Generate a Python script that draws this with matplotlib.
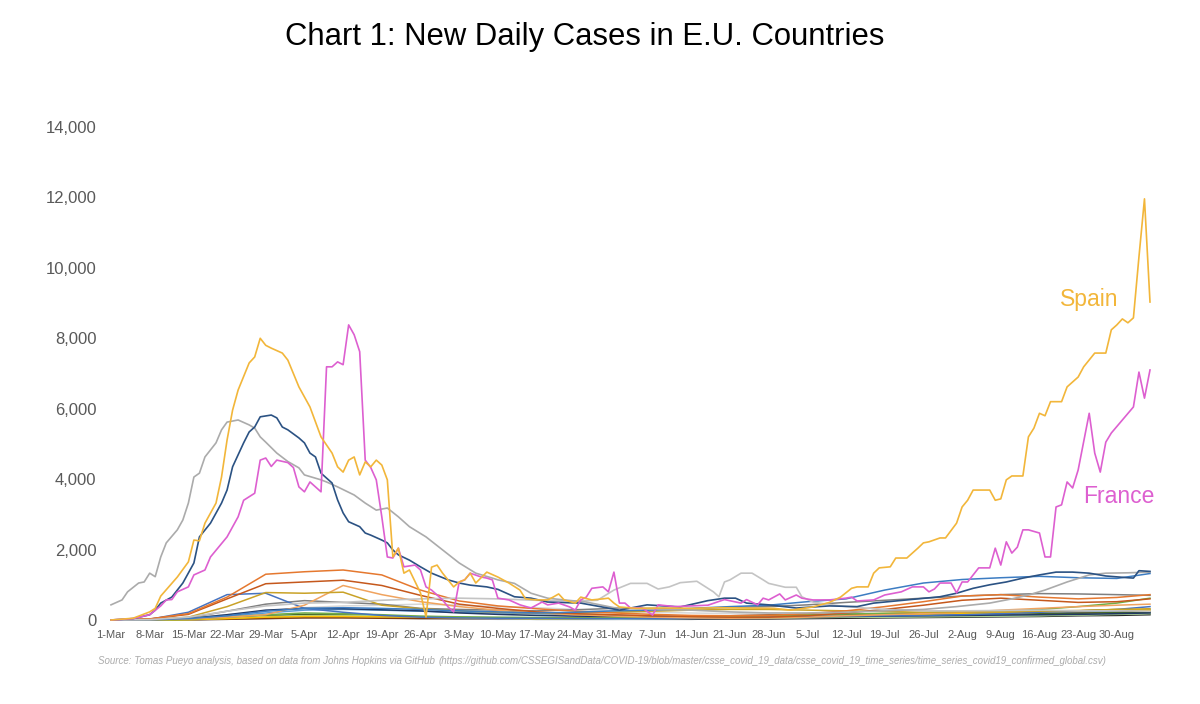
import matplotlib
matplotlib.use('Agg')
import matplotlib.pyplot as plt

plt.rcParams['font.family'] = ['Liberation Sans', 'DejaVu Sans']

# ── Data: new daily cases, day 0 = 1-Mar ─────────────────────────────────
x_labels = ['1-Mar', '8-Mar', '15-Mar', '22-Mar', '29-Mar', '5-Apr', '12-Apr',
            '19-Apr', '26-Apr', '3-May', '10-May', '17-May', '24-May', '31-May',
            '7-Jun', '14-Jun', '21-Jun', '28-Jun', '5-Jul', '12-Jul', '19-Jul',
            '26-Jul', '2-Aug', '9-Aug', '16-Aug', '23-Aug', '30-Aug']

spain_day = [0, 4, 7, 8, 9, 12, 14, 15, 16, 17, 19, 20, 21, 22, 23, 25, 26, 27, 28, 29,
             30, 31, 32, 34, 36, 38, 40, 41, 42, 43, 44, 45, 46, 47, 48, 49, 50, 51, 52,
             53, 54, 56, 57, 58, 59, 60, 62, 63, 64, 65, 66, 68, 70, 72, 74, 75, 77, 79,
             80, 81, 82, 84, 85, 87, 89, 90, 91, 92, 95, 100, 105, 110, 115, 120, 123,
             127, 130, 132, 134, 135, 137, 138, 139, 141, 142, 144, 146, 147, 148, 150,
             151, 153, 154, 155, 156, 159, 160, 161, 162, 163, 165, 166, 167, 168, 169,
             170, 172, 173, 175, 176, 178, 180, 181, 182, 183, 184, 185, 186, 187, 188]
spain_val = [0, 50, 230, 330, 680, 1220, 1650, 2270, 2250, 2750, 3320, 4060, 5110, 5960,
             6530, 7300, 7470, 8000, 7800, 7720, 7650, 7580, 7380, 6620, 6050, 5200, 4740,
             4350, 4200, 4540, 4630, 4120, 4490, 4350, 4540, 4400, 3980, 1790, 2040, 1330,
             1420, 770, 85, 1500, 1560, 1330, 940, 1080, 1140, 1330, 1050, 1360, 1220, 1050,
             850, 600, 570, 570, 650, 740, 570, 480, 650, 570, 600, 620, 480, 370, 330, 340,
             330, 350, 340, 330, 280, 370, 500, 650, 900, 940, 940, 1330, 1480, 1510, 1760,
             1760, 2040, 2190, 2220, 2330, 2330, 2750, 3210, 3400, 3690, 3690, 3400, 3440,
             3980, 4090, 4090, 5200, 5450, 5870, 5800, 6200, 6200, 6620, 6900, 7190, 7580,
             7580, 8240, 8380, 8550, 8440, 8580, 10310, 11960, 9030]

france_day = [0, 4, 7, 9, 10, 11, 12, 14, 15, 17, 18, 21, 23, 24, 26, 27, 28, 29, 30, 32,
              33, 34, 35, 36, 38, 39, 40, 41, 42, 43, 44, 45, 46, 47, 48, 49, 50, 51, 52,
              53, 55, 56, 57, 58, 60, 61, 62, 63, 64, 65, 67, 68, 69, 70, 72, 74, 76, 78,
              79, 81, 83, 84, 85, 86, 87, 89, 90, 91, 92, 93, 94, 96, 98, 99, 102, 105, 108,
              111, 114, 115, 117, 118, 119, 121, 122, 124, 125, 127, 130, 133, 134, 135, 138,
              140, 143, 145, 147, 148, 149, 150, 152, 153, 154, 155, 157, 159, 160, 161, 162,
              163, 164, 165, 166, 168, 169, 170, 171, 172, 173, 174, 175, 177, 178, 179, 180,
              181, 183, 185, 186, 187, 188]
france_val = [0, 40, 150, 400, 570, 580, 800, 940, 1280, 1420, 1790, 2360, 2930, 3400, 3600,
              4540, 4600, 4360, 4540, 4470, 4330, 3780, 3640, 3920, 3640, 7190, 7190, 7330,
              7250, 8380, 8100, 7620, 4540, 4330, 3980, 2930, 1790, 1760, 2040, 1510, 1560,
              1420, 940, 850, 570, 370, 230, 1080, 1140, 1330, 1220, 1190, 1140, 620, 570, 430,
              340, 510, 430, 480, 370, 280, 570, 650, 900, 940, 800, 1360, 480, 480, 340, 350,
              140, 430, 380, 400, 420, 580, 480, 580, 430, 620, 570, 740, 570, 710, 620, 570,
              570, 620, 650, 540, 570, 710, 800, 940, 940, 800, 880, 1050, 1050, 770, 1080,
              1080, 1480, 1480, 2040, 1560, 2220, 1900, 2070, 2560, 2560, 2470, 1790, 1790,
              3210, 3270, 3920, 3750, 4260, 5870, 4740, 4200, 5050, 5310, 5680, 6050, 7040,
              6300, 7100]

germany_day = [0, 4, 7, 8, 9, 11, 13, 15, 16, 18, 20, 21, 22, 24, 25, 26, 27, 29, 30, 31,
               32, 34, 35, 36, 37, 38, 40, 41, 42, 43, 45, 46, 47, 49, 50, 51, 52, 54, 56,
               58, 61, 63, 65, 68, 70, 73, 76, 79, 85, 92, 97, 103, 108, 111, 113, 115, 119,
               124, 130, 135, 138, 144, 150, 153, 156, 159, 162, 165, 168, 171, 174, 177,
               180, 184, 185, 186, 188]
germany_val = [0, 40, 150, 280, 480, 650, 1050, 1620, 2360, 2750, 3320, 3690, 4350, 5030,
               5340, 5480, 5770, 5820, 5740, 5480, 5400, 5170, 5030, 4740, 4630, 4170, 3890,
               3410, 3040, 2790, 2650, 2470, 2410, 2270, 2190, 1990, 1850, 1700, 1510, 1330,
               1140, 1050, 990, 940, 870, 660, 620, 510, 480, 280, 430, 370, 550, 620, 620,
               480, 430, 340, 400, 380, 480, 570, 660, 760, 900, 1000, 1080, 1190, 1280, 1360,
               1360, 1330, 1250, 1200, 1190, 1400, 1380]

italy_day = [0, 2, 3, 5, 6, 7, 8, 9, 10, 12, 13, 14, 15, 16, 17, 19, 20, 21, 23, 25, 26,
             27, 28, 30, 32, 34, 35, 38, 39, 41, 44, 46, 48, 50, 52, 54, 57, 60, 63, 66, 69,
             70, 73, 76, 79, 82, 86, 91, 98, 105, 112, 119, 126, 133, 140, 147, 153, 159,
             163, 166, 169, 173, 177, 180, 184, 188]
italy_val = [430, 570, 800, 1050, 1080, 1330, 1230, 1790, 2190, 2560, 2840, 3320, 4060, 4170,
             4630, 5030, 5400, 5620, 5680, 5540, 5450, 5200, 5050, 4740, 4500, 4320, 4120,
             3980, 3920, 3780, 3550, 3320, 3120, 3180, 2930, 2650, 2360, 1990, 1620, 1330,
             1190, 1140, 1040, 760, 620, 570, 510, 350, 300, 280, 230, 200, 200, 220, 260,
             300, 380, 480, 600, 710, 850, 1080, 1280, 1330, 1340, 1360]

sweden_day = [0, 7, 14, 21, 28, 35, 42, 49, 56, 63, 70, 77, 84, 88, 91, 94, 97, 99, 101,
              103, 106, 109, 110, 111, 112, 114, 116, 118, 119, 122, 124, 125, 127, 130, 133,
              140, 147, 154, 161, 168, 175, 182, 188]
sweden_val = [0, 10, 80, 250, 400, 480, 500, 560, 600, 620, 600, 560, 540, 560, 850, 1040,
              1040, 880, 940, 1060, 1100, 800, 660, 1080, 1140, 1330, 1330, 1140, 1040, 930,
              930, 660, 510, 440, 380, 300, 260, 260, 270, 280, 260, 260, 250]

# minor countries sampled once a week (day 0, 7, ... 182, 188)
week_day = [0, 7, 14, 21, 28, 35, 42, 49, 56, 63, 70, 77, 84, 91, 98, 105, 112, 119, 126,
            133, 140, 147, 154, 161, 168, 175, 182, 188]
belgium = [0, 30, 180, 650, 1300, 1370, 1420, 1280, 850, 540, 400, 320, 250, 200, 160, 130,
           120, 130, 180, 260, 380, 520, 680, 720, 650, 600, 640, 720]
netherlands = [0, 30, 160, 600, 1030, 1080, 1130, 980, 700, 450, 330, 230, 180, 150, 120, 100,
               80, 80, 120, 200, 300, 420, 560, 620, 560, 500, 520, 600]
portugal = [0, 10, 80, 380, 780, 760, 790, 420, 320, 260, 220, 200, 200, 220, 250, 280, 300,
            300, 280, 260, 240, 220, 230, 230, 250, 270, 300, 320]
ireland = [0, 5, 30, 80, 150, 420, 980, 720, 520, 380, 280, 200, 150, 110, 80, 60, 50, 60, 80,
           120, 150, 180, 220, 280, 330, 380, 420, 450]
austria = [0, 20, 220, 720, 760, 330, 220, 130, 80, 60, 50, 50, 40, 40, 40, 50, 60, 80, 100,
           110, 120, 130, 150, 180, 220, 260, 300, 380]
romania = [0, 5, 40, 120, 250, 330, 350, 330, 300, 260, 230, 200, 220, 260, 280, 330, 380, 420,
           520, 600, 850, 1050, 1150, 1200, 1240, 1200, 1180, 1320]
poland = [0, 5, 60, 250, 450, 550, 500, 450, 330, 300, 280, 260, 290, 330, 330, 320, 360, 380,
          430, 500, 560, 620, 680, 720, 750, 740, 720, 700]
denmark = [0, 20, 70, 150, 250, 350, 400, 420, 450, 420, 380, 350, 300, 250, 220, 200, 180,
           170, 160, 150, 160, 170, 180, 200, 220, 250, 280, 300]
czechia = [0, 0, 20, 80, 150, 200, 180, 150, 110, 90, 80, 70, 60, 60, 60, 70, 90, 120, 150,
           170, 190, 210, 230, 260, 300, 380, 480, 620]
greece = [0, 0, 10, 40, 80, 100, 100, 90, 80, 60, 50, 40, 40, 50, 60, 70, 80, 90, 100, 120,
          140, 160, 180, 200, 220, 260, 300, 280]
finland = [0, 5, 40, 150, 280, 330, 320, 290, 260, 200, 160, 130, 110, 100, 90, 80, 80, 80, 90,
           100, 110, 120, 130, 140, 150, 160, 180, 200]
luxembourg = [0, 5, 30, 100, 200, 280, 300, 280, 250, 220, 200, 180, 150, 130, 120, 110, 100,
              100, 110, 120, 130, 150, 180, 200, 220, 240, 260, 300]
hungary = [0, 0, 10, 50, 100, 120, 130, 120, 100, 80, 60, 50, 40, 40, 40, 50, 60, 60, 70, 80,
           80, 90, 100, 110, 120, 140, 160, 180]
croatia = [0, 0, 20, 60, 120, 160, 150, 120, 90, 70, 50, 40, 40, 50, 60, 70, 80, 90, 100, 110,
           120, 140, 160, 170, 180, 190, 210, 230]
bulgaria = [0, 0, 5, 20, 40, 60, 60, 50, 40, 40, 40, 50, 60, 70, 80, 100, 120, 140, 150, 160,
            170, 180, 190, 200, 210, 220, 230, 240]
slovakia = [0, 0, 5, 20, 40, 60, 70, 60, 40, 30, 20, 20, 20, 20, 30, 40, 50, 60, 70, 80, 90,
            100, 110, 120, 130, 150, 170, 190]
estonia = [0, 0, 10, 30, 60, 80, 90, 80, 60, 40, 30, 20, 20, 20, 20, 20, 30, 30, 40, 50, 60,
           70, 80, 90, 100, 120, 130, 150]

minor = [
    (denmark, '#D6D6D6'), (estonia, '#262626'), (slovakia, '#9DC3E6'),
    (bulgaria, '#843C0C'), (croatia, '#43682B'), (hungary, '#A9D18E'),
    (luxembourg, '#5B9BD5'), (finland, '#203864'), (greece, '#FFC000'),
    (czechia, '#70AD47'), (poland, '#7F7F7F'), (austria, '#4673C0'),
    (ireland, '#F0A35E'), (portugal, '#C9A227'), (netherlands, '#C5581C'),
    (belgium, '#E5782F'), (romania, '#3C7CC2'),
]

SPAIN = '#F2B63A'
FRANCE = '#DD5FD0'
GERMANY = '#2B5283'
ITALY = '#ABABAB'
SWEDEN = '#C4C4C4'
GREY = '#595959'

fig = plt.figure(figsize=(12, 7.04), dpi=100)
fig.patch.set_facecolor('white')
ax = fig.add_axes([111 / 1200, 84 / 704, 1039 / 1200, 493 / 704])

for vals, col in minor:
    ax.plot(week_day, vals, color=col, linewidth=1.1, clip_on=False)
ax.plot(sweden_day, sweden_val, color=SWEDEN, linewidth=1.2, clip_on=False)
ax.plot(italy_day, italy_val, color=ITALY, linewidth=1.2, clip_on=False)
ax.plot(germany_day, germany_val, color=GERMANY, linewidth=1.2, clip_on=False)
ax.plot(france_day, france_val, color=FRANCE, linewidth=1.2, clip_on=False)
ax.plot(spain_day, spain_val, color=SPAIN, linewidth=1.2, clip_on=False)

ax.set_xlim(0, 188)
ax.set_ylim(0, 14000)
ax.set_xticks(range(0, 7 * len(x_labels), 7))
ax.set_xticklabels(x_labels)
ax.set_yticks(range(0, 14001, 2000))
ax.set_yticklabels([f'{v:,}' for v in range(0, 14001, 2000)])
ax.tick_params(axis='x', length=0, pad=7, labelsize=8, colors=GREY)
ax.tick_params(axis='y', length=0, pad=10.5, labelsize=12, colors=GREY)
for s in ax.spines.values():
    s.set_visible(False)

ax.text(171.7, 9100, 'Spain', color=SPAIN, fontsize=16.5, va='center')
ax.text(175.9, 3520, 'France', color=FRANCE, fontsize=16.5, va='center')

fig.text(585 / 1200, 1 - 37 / 704, 'Chart 1: New Daily Cases in E.U. Countries',
         ha='center', va='center', fontsize=22.3, color='black')

src = fig.text(98 / 1200, 1 - 661 / 704,
               'Source: Tomas Pueyo analysis, based on data from Johns Hopkins via GitHub',
               fontsize=7, style='italic', color='#ABABAB', va='center')
fig.canvas.draw()
bb = src.get_window_extent()
fig.text(bb.x1 / 1200 + 0.003, 1 - 661 / 704,
         '(https://github.com/CSSEGISandData/COVID-19/blob/master/csse_covid_19_data/'
         'csse_covid_19_time_series/time_series_covid19_confirmed_global.csv)',
         fontsize=7.0, style='italic', color='#ABABAB', va='center')

fig.savefig('out.png', dpi=100, facecolor='white')
